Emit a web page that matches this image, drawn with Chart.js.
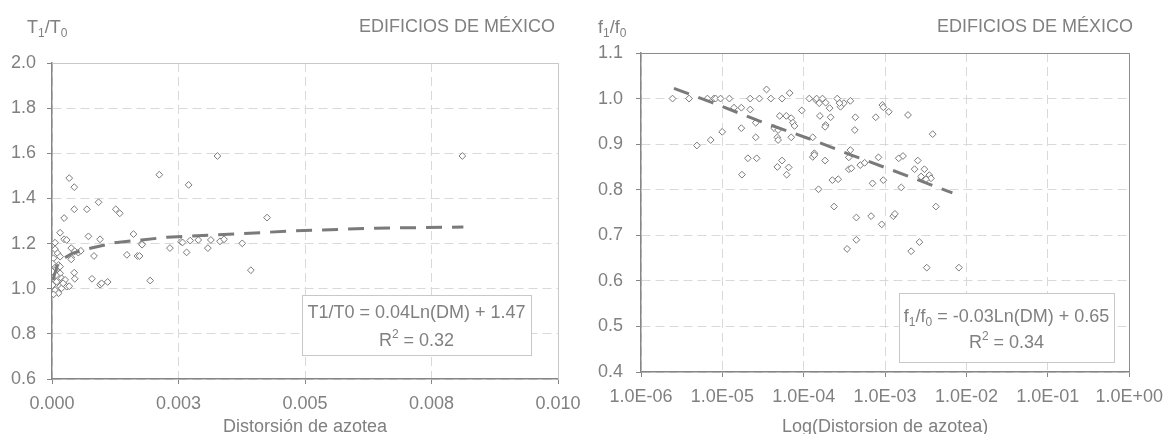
<!DOCTYPE html>
<html>
<head>
<meta charset="utf-8">
<script src="https://cdn.jsdelivr.net/npm/chart.js@4"></script>
<style>
    body { margin: 0; background: #fff; }
    canvas { position: absolute; top: 0; }
    #left { left: 0; }
    #right { left: 560px; }
</style>
</head>
<body>
<canvas id="left" width="620" height="434"></canvas>
<canvas id="right" width="612" height="434"></canvas>
<script>
// Left chart: T1/T0 vs roof drift
const leftX = [
    0.00034, 0.00044, 0.00212, 0.00270, 0.00092, 0.00044, 0.00069, 0.00126, 0.00134, 0.00024,
    0.00016, 0.00024, 0.00029, 0.00072, 0.00095, 0.00161, 0.00177, 0.00178, 0.00233, 0.00255,
    0.00258, 0.00273, 0.00266, 0.00006, 0.00038, 0.00045, 0.00052, 0.00057, 0.00038, 0.00038,
    0.00083, 0.00148, 0.00169, 0.00173, 0.00044, 0.00045, 0.00079, 0.00095, 0.00098, 0.00110,
    0.00194, 0.00006, 0.00011, 0.00003, 0.00016, 0.00001, 0.00013, 0.00006, 0.00001, 0.00016,
    0.00003, 0.00019, 0.00009, 0.00022, 0.00001, 0.00016, 0.00029, 0.00006, 0.00019, 0.00034,
    0.00026, 0.00013, 0.00003, 0.00016, 0.00022, 0.00008, 0.00327, 0.00289, 0.00308, 0.00314,
    0.00332, 0.00340, 0.00376, 0.00393, 0.00425, 0.00811
]
const leftY = [
    1.490, 1.450, 1.505, 1.460, 1.383, 1.352, 1.352, 1.352, 1.334, 1.313,
    1.248, 1.219, 1.216, 1.232, 1.219, 1.242, 1.200, 1.195, 1.180, 1.208,
    1.205, 1.213, 1.161, 1.204, 1.180, 1.166, 1.160, 1.168, 1.139, 1.130,
    1.145, 1.150, 1.145, 1.145, 1.071, 1.044, 1.044, 1.018, 1.024, 1.030,
    1.036, 1.175, 1.157, 1.135, 1.142, 1.112, 1.105, 1.083, 1.075, 1.068,
    1.053, 1.046, 1.031, 1.031, 1.016, 1.011, 1.009, 0.994, 1.002, 1.011,
    1.039, 0.980, 0.975, 1.098, 1.024, 1.060, 1.588, 1.216, 1.180, 1.216,
    1.210, 1.219, 1.201, 1.082, 1.315, 1.588
]
const leftTrendX = [0.00002, 0.0001, 0.0002, 0.0004, 0.00072, 0.00124, 0.00177, 0.00227, 0.00277, 0.00477, 0.00632, 0.00813]
const leftTrendY = [1.04, 1.10, 1.13, 1.157, 1.177, 1.204, 1.216, 1.228, 1.233, 1.256, 1.268, 1.273]
const leftXLabels = ['0.000', '0.003', '0.005', '0.008', '0.010']
const leftYLabels = ['0.6', '0.8', '1.0', '1.2', '1.4', '1.6', '1.8', '2.0']

// Right chart: f1/f0 vs log roof drift
const rightX = [
    2.44e-6, 3.89e-6, 4.86e-6, 7.19e-6, 9.95e-6, 6.55e-6, 7.89e-6, 8.26e-6, 9.5e-6, 1.22e-5,
    1.39e-5, 1.71e-5, 2.2e-5, 2.2e-5, 2.85e-5, 3.94e-5, 5.41e-5, 3.49e-5, 6.71e-5, 9.46e-5,
    1.17e-4, 1.41e-4, 1.71e-5, 2.57e-5, 2.57e-5, 5.07e-5, 6.1e-5, 7.02e-5, 7.36e-5, 7.71e-5,
    4.33e-5, 4.84e-5, 4.74e-5, 4.84e-5, 7.02e-5, 1.29e-4, 2.06e-5, 2.64e-5, 1.74e-5, 5.41e-5,
    4.74e-5, 6.53e-5, 6.17e-5, 1.29e-4, 1.35e-4, 1.44e-4, 1.55e-4, 1.70e-4, 1.86e-4, 2.08e-4,
    2.58e-4, 2.83e-4, 3.11e-4, 3.74e-4, 2.75e-4, 1.58e-4, 2.14e-4, 1.86e-4, 1.83e-4, 4.31e-4,
    4.24e-4, 7.67e-4, 9.25e-4, 9.5e-4, 1.11e-3, 1.91e-3, 3.84e-3, 1.35e-4, 1.83e-4, 3.74e-4,
    3.58e-4, 3.58e-4, 3.85e-4, 4.95e-4, 5.6e-4, 8.28e-4, 1.47e-3, 1.66e-3, 2.52e-3, 2.30e-3,
    3.04e-3, 2.77e-3, 3.49e-3, 3.66e-3, 3.18e-3, 2.25e-4, 2.65e-4, 1.52e-4, 7.0e-4, 9.5e-4,
    1.58e-3, 2.36e-4, 4.43e-4, 6.73e-4, 9.08e-4, 1.26e-3, 1.32e-3, 4.21e-3, 3.41e-4, 4.43e-4,
    2.09e-3, 2.64e-3, 3.25e-3, 8.07e-3
]
const rightY = [
    1.000, 1.000, 0.897, 0.909, 0.927, 1.000, 1.000, 1.000, 1.000, 1.000,
    0.980, 0.980, 0.976, 1.000, 1.000, 1.000, 1.000, 1.020, 1.012, 0.974,
    1.000, 0.997, 0.935, 0.947, 0.915, 0.962, 0.962, 0.957, 0.947, 0.940,
    0.935, 0.931, 0.915, 0.909, 0.915, 0.915, 0.869, 0.869, 0.833, 0.864,
    0.850, 0.849, 0.833, 0.872, 0.880, 1.000, 0.990, 1.000, 0.991, 0.979,
    1.000, 0.982, 0.990, 0.995, 0.990, 0.962, 0.959, 0.942, 0.938, 0.959,
    0.931, 0.959, 0.986, 0.981, 0.971, 0.964, 0.922, 0.876, 0.864, 0.887,
    0.871, 0.845, 0.847, 0.854, 0.859, 0.871, 0.869, 0.874, 0.864, 0.845,
    0.845, 0.829, 0.832, 0.825, 0.823, 0.821, 0.823, 0.801, 0.814, 0.821,
    0.805, 0.763, 0.739, 0.742, 0.724, 0.742, 0.747, 0.763, 0.670, 0.690,
    0.665, 0.685, 0.629, 0.629
]
const rightTrendX = [2.54e-6, 7.52e-6, 2.82e-5, 1.12e-4, 4.0e-4, 1.91e-3, 6.71e-3]
const rightTrendY = [1.0225, 0.991, 0.951, 0.913, 0.875, 0.830, 0.793]
const rightXTicks = [1e-6, 1e-5, 1e-4, 1e-3, 1e-2, 1e-1, 1]
const rightXLabels = ['1.0E-06', '1.0E-05', '1.0E-04', '1.0E-03', '1.0E-02', '1.0E-01', '1.0E+00']
const rightYLabels = ['0.4', '0.5', '0.6', '0.7', '0.8', '0.9', '1.0', '1.1']

const gray = '#808080'
const axisGray = '#868686'
const gridGray = '#d9d9d9'
const family = '"Liberation Sans", Arial, sans-serif'

function toPoints(xs, ys) {
    return xs.map((x, i) => ({x, y: ys[i]}))
}

// text with optional sub/superscript pieces: [text, '' | 'sub' | 'sup']
function drawParts(ctx, parts, x, y, align) {
    const fontFor = kind => kind ? `12px ${family}` : `18px ${family}`
    let width = 0
    for (const [text, kind] of parts) {
        ctx.font = fontFor(kind)
        width += ctx.measureText(text).width
    }
    let cx = align === 'center' ? x - width / 2 : align === 'right' ? x - width : x
    ctx.textAlign = 'left'
    ctx.textBaseline = 'alphabetic'
    ctx.fillStyle = gray
    for (const [text, kind] of parts) {
        ctx.font = fontFor(kind)
        const dy = kind === 'sub' ? 4 : kind === 'sup' ? -8 : 0
        ctx.fillText(text, cx, y + dy)
        cx += ctx.measureText(text).width
    }
}

function decorPlugin(d) {
    return {
        id: 'decor',
        beforeDatasetsDraw(chart) {
            const ctx = chart.ctx
            const a = chart.chartArea
            ctx.save()
            // top and right edges of the plot box
            ctx.strokeStyle = d.frameColor
            ctx.lineWidth = 1
            ctx.beginPath()
            ctx.moveTo(Math.round(a.left) + 0.5, Math.round(a.top) + 0.5)
            ctx.lineTo(Math.round(a.right) + 0.5, Math.round(a.top) + 0.5)
            ctx.lineTo(Math.round(a.right) + 0.5, Math.round(a.bottom) + 0.5)
            ctx.stroke()
            // equation box
            const b = d.box
            ctx.fillStyle = '#fff'
            ctx.fillRect(b.x, b.y, b.w, b.h)
            ctx.strokeStyle = '#c8c8c8'
            ctx.strokeRect(b.x + 0.5, b.y + 0.5, b.w, b.h)
            drawParts(ctx, d.eq1, b.x + b.w / 2, d.eqBase[0], 'center')
            drawParts(ctx, d.eq2, b.x + b.w / 2, d.eqBase[1], 'center')
            // headers and axis title
            drawParts(ctx, d.yTitle, d.yTitleX, 33, 'left')
            drawParts(ctx, [['EDIFICIOS DE MÉXICO', '']], d.headerRight, 32, 'right')
            drawParts(ctx, [[d.xTitle, '']], (a.left + a.right) / 2, 432, 'center')
            ctx.restore()
        }
    }
}

function axis(extra) {
    return Object.assign({
        grid: {color: gridGray, tickColor: axisGray, tickLength: 5, lineWidth: 1},
        border: {color: axisGray, width: 1.5, dash: [9, 5]}
    }, extra)
}

function tickOpts(labels, padding, extra) {
    return Object.assign({
        color: gray,
        font: {size: 18, family},
        padding,
        maxRotation: 0,
        autoSkip: false,
        callback: (v, i) => labels[i]
    }, extra)
}

function instantiateChart(id, points, trend, scales, padding, decor) {
    new Chart(document.getElementById(id), {
        type: 'scatter',
        data: {
            datasets: [
                {
                    data: trend,
                    showLine: true,
                    pointRadius: 0,
                    borderColor: '#7a7a7a',
                    borderWidth: 3,
                    borderDash: [16, 10],
                    tension: 0
                },
                {
                    data: points,
                    pointStyle: 'rectRot',
                    pointRadius: 3.4,
                    pointBorderWidth: 1,
                    pointBorderColor: '#7a7a7a',
                    pointBackgroundColor: '#fff'
                }
            ]
        },
        options: {
            responsive: false,
            animation: false,
            events: [],
            devicePixelRatio: 1,
            layout: {padding},
            plugins: {legend: {display: false}, tooltip: {enabled: false}},
            scales
        },
        plugins: [decorPlugin(decor)]
    })
}

instantiateChart('left',
    toPoints(leftX, leftY),
    toPoints(leftTrendX, leftTrendY),
    {
        x: axis({
            type: 'linear', min: 0, max: 0.01,
            ticks: tickOpts(leftXLabels, 9, {stepSize: 0.0025}),
            afterFit: s => { s.height = 55 }
        }),
        y: axis({
            type: 'linear', min: 0.6, max: 2.0,
            ticks: tickOpts(leftYLabels, 11, {stepSize: 0.2}),
            afterFit: s => { s.width = 52 }
        })
    },
    {top: 63, right: 62, left: 0, bottom: 0},
    {
        frameColor: '#c8c8c8',
        box: {x: 302, y: 295, w: 229, h: 60},
        eq1: [['T1/T0 = 0.04Ln(DM) + 1.47', '']],
        eq2: [['R', ''], ['2', 'sup'], [' = 0.32', '']],
        eqBase: [318, 346],
        yTitle: [['T', ''], ['1', 'sub'], ['/T', ''], ['0', 'sub']],
        yTitleX: 27,
        headerRight: 555,
        xTitle: 'Distorsión de azotea'
    }
)

instantiateChart('right',
    toPoints(rightX, rightY),
    toPoints(rightTrendX, rightTrendY),
    {
        x: axis({
            type: 'logarithmic', min: 1e-6, max: 1,
            ticks: tickOpts(rightXLabels, 9),
            afterBuildTicks: s => { s.ticks = rightXTicks.map(value => ({value})) },
            afterFit: s => { s.height = 62 }
        }),
        y: axis({
            type: 'linear', min: 0.4, max: 1.1,
            ticks: tickOpts(rightYLabels, 13, {stepSize: 0.1}),
            afterFit: s => { s.width = 81 }
        })
    },
    {top: 53, right: 36, left: 0, bottom: 0},
    {
        frameColor: '#8c8c8c',
        box: {x: 339, y: 293, w: 215, h: 69},
        eq1: [['f', ''], ['1', 'sub'], ['/f', ''], ['0', 'sub'], [' = -0.03Ln(DM) + 0.65', '']],
        eq2: [['R', ''], ['2', 'sup'], [' = 0.34', '']],
        eqBase: [322, 348],
        yTitle: [['f', ''], ['1', 'sub'], ['/f', ''], ['0', 'sub']],
        yTitleX: 38,
        headerRight: 573,
        xTitle: 'Log(Distorsion de azotea)'
    }
)
</script>
</body>
</html>
